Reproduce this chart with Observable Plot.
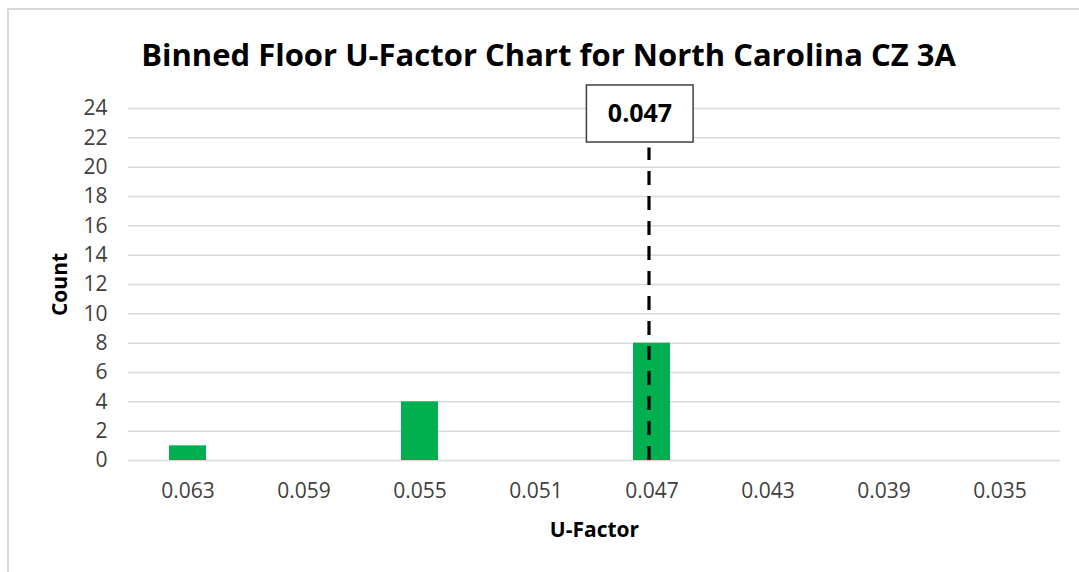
<!DOCTYPE html>
<html>
<head>
<meta charset="utf-8">
<script src="https://cdn.jsdelivr.net/npm/d3@7"></script>
<script src="https://cdn.jsdelivr.net/npm/@observablehq/plot@0.6"></script>
<style>
  html, body { margin: 0; padding: 0; background: #fff; overflow: hidden; }
  #wrap { position: relative; width: 1079px; height: 572px; overflow: hidden; }
  #frame { position: absolute; left: 7px; top: 8px; width: 1200px; height: 700px; border-left: 2.5px solid #d9d9d9; border-top: 2.5px solid #d9d9d9; }
  #title { position: absolute; left: 9px; top: 0; width: 1079px; height: 80px; text-align: center;
           font-family: "Open Sans", sans-serif; font-weight: bold; font-size: 31px; line-height: 80px; padding-top: 14px; box-sizing: border-box; color: #000; white-space: nowrap; }
  #chart { position: absolute; left: 0; top: 80px; }
</style>
</head>
<body>
<div id="wrap">
  <div id="frame"></div>
  <div id="title">Binned Floor U-Factor Chart for North Carolina CZ 3A</div>
  <div id="chart"></div>
</div>
<script>
const categories = ["0.063", "0.059", "0.055", "0.051", "0.047", "0.043", "0.039", "0.035"];
const counts = [1, 0, 4, 0, 8, 0, 0, 0];
const yTicks = [0, 2, 4, 6, 8, 10, 12, 14, 16, 18, 20, 22, 24];
const markerValue = "0.047";
const markerTop = 21.3;
const markerBox = [25.57, 21.68];
const markerLabelY = 23.62;

const data = categories.map((c, i) => ({ bin: c, count: counts[i] }));
const font = "'Open Sans', sans-serif";

const chart = Plot.plot({
  width: 1079,
  height: 492,
  marginTop: 28,
  marginBottom: 112,
  marginLeft: 128,
  marginRight: 19,
  style: { fontFamily: font, fontSize: "21px", color: "#404040", background: "transparent" },
  x: { domain: categories, paddingInner: 0.68, paddingOuter: 0.34, label: null },
  y: { domain: [0, 24], label: null },
  marks: [
    Plot.gridY(yTicks, { stroke: "#d9d9d9", strokeOpacity: 1, strokeWidth: 1.5 }),
    Plot.axisY(yTicks, { tickSize: 0, tickPadding: 21, fontSize: 21, fill: "#404040", label: null }),
    Plot.axisX({ tickSize: 0, tickPadding: 23, fontSize: 21, fill: "#404040", label: null }),
    Plot.barY(data, { x: "bin", y: "count", fill: "#00b050" }),
    Plot.ruleX([markerValue], { y1: 0, y2: markerTop, stroke: "#000", strokeWidth: 3.2, strokeDasharray: "14,11", dx: -3 }),
    Plot.rectY([markerValue], { x: (d) => d, y1: markerBox[0], y2: markerBox[1], fill: "#fff", stroke: "#404040", strokeWidth: 1.5, insetLeft: -46.6, insetRight: -23.1 }),
    Plot.text([markerValue], { x: (d) => d, y: markerLabelY, text: (d) => d, dx: -12, fontSize: 25, fontWeight: "bold", fill: "#000" }),
    Plot.text(["Count"], { frameAnchor: "left", dx: -68, rotate: -90, textAnchor: "middle", lineAnchor: "middle", text: (d) => d, fontSize: 21, fontWeight: "bold", fill: "#000" }),
    Plot.text(["U-Factor"], { frameAnchor: "bottom", dy: 70, textAnchor: "middle", lineAnchor: "middle", text: (d) => d, fontSize: 21, fontWeight: "bold", fill: "#000" })
  ]
});
document.getElementById("chart").appendChild(chart);
</script>
</body>
</html>
